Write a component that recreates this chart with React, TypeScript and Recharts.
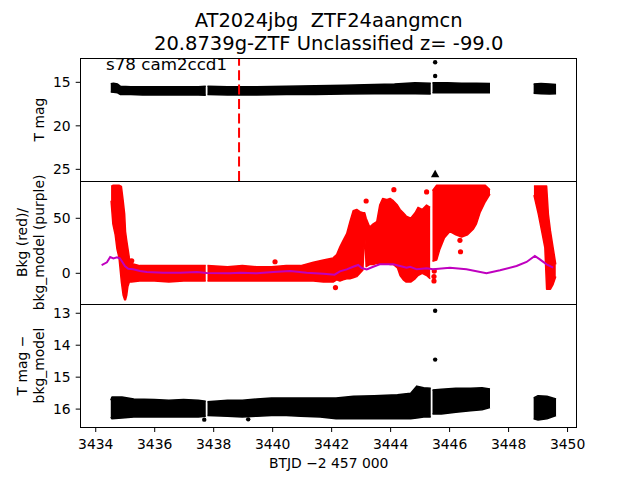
import React from 'react';
import { ComposedChart, Area, Scatter, XAxis, YAxis, ReferenceLine } from 'recharts';

const FONT = "'DejaVu Sans', sans-serif";

type Row = [number, number | null, number | null];
type Pt = [number, number];

const xDomain: [number, number] = [3433.49, 3450.31];
const xTicks = [3434, 3436, 3438, 3440, 3442, 3444, 3446, 3448, 3450];
const magTicks = [15, 20, 25];
const bkgTicks = [0, 50];
const diffTicks = [13, 14, 15, 16];

const magDomain: [number, number] = [12.24, 26.34];
const bkgDomain: [number, number] = [-27.9, 83.9];
const diffDomain: [number, number] = [12.71, 16.56];

const discoveryBTJD = 3438.86;

// T mag band envelope: [BTJD, bright edge, faint edge]
const tMagEnvelope: Row[] = [
  [3434.51, 15.15, 16.1],
  [3434.6, 15.1, 16.15],
  [3434.74, 15.2, 16.2],
  [3434.84, 15.45, 16.4],
  [3435.19, 15.5, 16.4],
  [3435.59, 15.5, 16.45],
  [3435.99, 15.5, 16.45],
  [3436.48, 15.5, 16.45],
  [3436.98, 15.5, 16.45],
  [3437.48, 15.5, 16.45],
  [3437.73, 15.45, 16.5],
  [3437.76, null, null],
  [3437.79, 15.45, 16.4],
  [3438.47, 15.5, 16.45],
  [3439.46, 15.5, 16.45],
  [3440.46, 15.45, 16.4],
  [3441.45, 15.4, 16.4],
  [3442.44, 15.35, 16.35],
  [3443.44, 15.25, 16.3],
  [3444.13, 15.2, 16.3],
  [3444.83, 15.05, 16.3],
  [3445.36, 15.1, 16.35],
  [3445.39, null, null],
  [3445.42, 15.05, 16.2],
  [3445.92, 15.05, 16.2],
  [3446.41, 15.1, 16.2],
  [3446.91, 15.1, 16.2],
  [3447.37, 15.15, 16.2],
  [3448.0, null, null],
  [3448.85, 15.2, 16.25],
  [3449.1, 15.15, 16.3],
  [3449.39, 15.2, 16.35],
  [3449.61, 15.25, 16.3],
];
const tMagOutliers: Pt[] = [
  [3445.51, 12.7],
  [3445.51, 14.28],
];
const tMagUpperLimits: Pt[] = [[3445.51, 25.57]];

// Background (red) envelope: [BTJD, low, high]
const bkgEnvelope: Row[] = [
  [3434.52, 66, 79],
  [3434.58, 45, 80],
  [3434.66, 35, 80],
  [3434.72, 22, 80],
  [3434.79, 14, 80],
  [3434.87, -8, 79],
  [3434.93, -20, 66],
  [3434.98, -24, 54],
  [3435.01, -24, 38],
  [3435.05, -20, 30],
  [3435.09, -12, 23],
  [3435.14, -8, 14],
  [3435.21, -8, 9],
  [3435.49, -7, 7],
  [3435.99, -7, 7],
  [3436.48, -8, 7],
  [3436.98, -7, 7],
  [3437.48, -7, 7],
  [3437.73, -7, 7],
  [3437.76, null, null],
  [3437.79, -7, 7],
  [3438.47, -7, 6],
  [3438.97, -7, 7],
  [3439.46, -7, 6],
  [3439.96, -7, 6],
  [3440.46, -7, 7],
  [3440.95, -7, 7],
  [3441.38, -7, 10],
  [3441.72, -8, 12],
  [3442.05, -8, 14],
  [3442.17, -6, 17],
  [3442.28, -7, 24],
  [3442.39, -6, 30],
  [3442.51, -5, 36],
  [3442.62, -5, 47],
  [3442.73, -4, 57],
  [3442.85, -3, 58],
  [3442.96, 0, 56],
  [3443.06, 3, 55],
  [3443.12, 38, 55],
  [3443.17, 6, 50],
  [3443.29, 8, 42],
  [3443.41, 8, 45],
  [3443.53, 9, 47],
  [3443.63, 9, 62],
  [3443.73, 9, 68],
  [3443.86, 9, 67],
  [3443.98, 8, 68],
  [3444.09, 8, 66],
  [3444.23, 5, 62],
  [3444.32, -2, 58],
  [3444.43, -6, 55],
  [3444.53, -8, 52],
  [3444.68, -8, 50],
  [3444.83, -5, 55],
  [3444.93, -2, 60],
  [3445.07, 0, 58],
  [3445.22, -2, 62],
  [3445.34, -5, 60],
  [3445.38, null, null],
  [3445.42, 11, 75],
  [3445.56, 12, 80],
  [3445.67, 22, 80],
  [3445.82, 32, 80],
  [3446.01, 38, 80],
  [3446.21, 35, 80],
  [3446.41, 33, 80],
  [3446.61, 35, 80],
  [3446.8, 40, 80],
  [3446.91, 45, 80],
  [3447.03, 55, 80],
  [3447.21, 65, 80],
  [3447.37, 72, 76],
  [3448.0, null, null],
  [3448.86, 71, 79.4],
  [3449.01, 53.6, 79.4],
  [3449.12, 38.5, 79.4],
  [3449.23, 23.3, 79.4],
  [3449.29, -14.5, 79.4],
  [3449.35, -14.5, 53.6],
  [3449.42, -14.5, 38.5],
  [3449.51, -10, 23.3],
  [3449.6, -3, 8.2],
];
const bkgOutliers: Pt[] = [
  [3435.22, 11.3],
  [3440.08, 10.5],
  [3442.13, -13],
  [3443.17, 65.7],
  [3444.11, 76],
  [3445.22, 74],
  [3445.47, -7],
  [3445.47, -3],
  [3445.48, 2],
  [3446.35, 30],
  [3446.37, 19.6],
];
// bkg_model (purple)
const bkgModel: Pt[] = [
  [3434.2, 7.5], [3434.38, 10], [3434.49, 14.8], [3434.6, 13.6], [3434.72, 14.5],
  [3434.82, 13.5], [3434.88, 11.2], [3434.99, 6.6], [3435.1, 4.2], [3435.27, 3.6],
  [3435.5, 2.1], [3435.73, 1.2], [3436.29, 0.6], [3436.86, 0.6], [3437.43, 1.2],
  [3437.76, 0.3], [3438.55, 0], [3438.9, 0.6], [3439.46, 0], [3440.02, 1.2],
  [3440.59, 2.1], [3441.15, 0.6], [3441.72, -0.3], [3442.1, -1.2], [3442.28, 1.8],
  [3442.51, 3.6], [3442.73, 6], [3442.9, 7.6], [3443.02, 4.8], [3443.19, 3.6],
  [3443.41, 6], [3443.63, 8.2], [3443.86, 8.2], [3444.09, 8.2], [3444.32, 6.6],
  [3444.54, 5], [3444.66, 6], [3444.89, 3.6], [3445.22, 4.5], [3445.44, 3.6],
  [3446.01, 5.1], [3446.57, 3.6], [3447.25, 0], [3447.71, 2.7], [3448.27, 6.6],
  [3448.61, 10.3], [3448.89, 15.8], [3449.06, 12.7], [3449.29, 8.2], [3449.51, 5.1],
];

// T mag - bkg_model envelope
const diffEnvelope: Row[] = [
  [3434.51, 15.72, 16.25],
  [3434.55, 15.62, 16.3],
  [3434.89, 15.62, 16.28],
  [3435.29, 15.68, 16.25],
  [3435.99, 15.7, 16.25],
  [3436.48, 15.72, 16.25],
  [3436.98, 15.7, 16.25],
  [3437.48, 15.72, 16.25],
  [3437.73, 15.75, 16.22],
  [3437.76, null, null],
  [3437.79, 15.77, 16.2],
  [3438.47, 15.72, 16.22],
  [3438.97, 15.72, 16.25],
  [3439.46, 15.68, 16.22],
  [3439.96, 15.65, 16.2],
  [3440.46, 15.65, 16.2],
  [3440.95, 15.65, 16.22],
  [3441.61, 15.65, 16.25],
  [3442.15, 15.65, 16.3],
  [3442.74, 15.6, 16.3],
  [3443.44, 15.58, 16.3],
  [3444.23, 15.55, 16.3],
  [3444.68, 15.5, 16.3],
  [3444.89, 15.28, 16.28],
  [3445.12, 15.33, 16.25],
  [3445.36, 15.35, 16.25],
  [3445.39, null, null],
  [3445.42, 15.4, 16.15],
  [3445.72, 15.38, 16.15],
  [3446.21, 15.35, 16.1],
  [3446.71, 15.35, 16.05],
  [3447.1, 15.33, 16.02],
  [3447.37, 15.37, 15.95],
  [3448.0, null, null],
  [3448.85, 15.65, 16.3],
  [3449.0, 15.58, 16.34],
  [3449.3, 15.6, 16.3],
  [3449.61, 15.68, 16.2],
];
const diffOutliers: Pt[] = [
  [3437.68, 16.33],
  [3439.17, 16.32],
  [3445.51, 12.92],
  [3445.51, 14.45],
];

const toRows = (env: Row[]) =>
  env.map(([t, lo, hi]) => ({ t, band: lo == null || hi == null ? null : [lo, hi] }));
const toPts = (pts: Pt[]) => pts.map(([t, v]) => ({ t, v }));

const tickStyle = { fill: '#000', fontSize: 13.9, fontFamily: FONT };
const W = 640;
const PLOT_LEFT = 80.7;
const PLOT_RIGHT = 576.7;

const dot = (r: number, color: string) => (p: any) =>
  <circle cx={p.cx} cy={p.cy} r={r} fill={color} />;
const triangle = (p: any) => (
  <polygon
    points={`${p.cx},${p.cy - 4.6} ${p.cx - 4.2},${p.cy + 3} ${p.cx + 4.2},${p.cy + 3}`}
    fill="#000"
  />
);
const noMarker = () => <g />;

const yAxisProps = (domain: [number, number], ticks: number[], reversed: boolean) => ({
  dataKey: 'v',
  type: 'number' as const,
  domain,
  reversed,
  allowDataOverflow: true,
  ticks,
  interval: 0 as const,
  width: PLOT_LEFT,
  tickSize: 5,
  tickMargin: 5,
  axisLine: false,
  tickLine: { stroke: '#000' },
  tick: tickStyle,
});

export default function App() {
  const margin = { top: 0, right: W - PLOT_RIGHT, bottom: 0, left: 0 };
  return (
    <div style={{ position: 'absolute', left: 0, top: 0, width: 640, height: 480, background: '#fff' }}>
      <div style={{ position: 'absolute', left: 0, top: 0 }}>
        <ComposedChart width={W} height={181} data={toRows(tMagEnvelope)} margin={{ ...margin, top: 58.3 }}>
          <XAxis dataKey="t" type="number" domain={xDomain} allowDataOverflow hide />
          <YAxis {...yAxisProps(magDomain, magTicks, true)} />
          <ReferenceLine x={discoveryBTJD} stroke="#ff0000" strokeWidth={2} strokeDasharray="10 4.4" />
          <Area dataKey="band" type="linear" stroke="#000" strokeWidth={1.5} strokeLinejoin="round" fill="#000" fillOpacity={1} connectNulls={false} isAnimationActive={false} dot={false} activeDot={false} />
          <Scatter data={toPts(tMagOutliers)} shape={dot(2.2, '#000')} isAnimationActive={false} />
          <Scatter data={toPts(tMagUpperLimits)} shape={triangle} isAnimationActive={false} />
        </ComposedChart>
      </div>
      <div style={{ position: 'absolute', left: 0, top: 181 }}>
        <ComposedChart width={W} height={123} data={toRows(bkgEnvelope)} margin={margin}>
          <XAxis dataKey="t" type="number" domain={xDomain} allowDataOverflow hide />
          <YAxis {...yAxisProps(bkgDomain, bkgTicks, false)} />
          <Area dataKey="band" type="linear" stroke="#ff0000" strokeWidth={1.5} strokeLinejoin="round" fill="#ff0000" fillOpacity={1} connectNulls={false} isAnimationActive={false} dot={false} activeDot={false} />
          <Scatter data={toPts(bkgOutliers)} shape={dot(2.6, '#ff0000')} isAnimationActive={false} />
          <Scatter data={toPts(bkgModel)} line={{ stroke: '#bf00bf', strokeWidth: 2 }} lineType="joint" shape={noMarker} isAnimationActive={false} />
        </ComposedChart>
      </div>
      <div style={{ position: 'absolute', left: 0, top: 304 }}>
        <ComposedChart width={W} height={176} data={toRows(diffEnvelope)} margin={margin}>
          <XAxis
            dataKey="t"
            type="number"
            domain={xDomain}
            allowDataOverflow
            ticks={xTicks}
            interval={0}
            height={53}
            tickSize={5}
            tickMargin={7}
            axisLine={false}
            tickLine={{ stroke: '#000' }}
            tick={tickStyle}
          />
          <YAxis {...yAxisProps(diffDomain, diffTicks, true)} />
          <Area dataKey="band" type="linear" stroke="#000" strokeWidth={1.5} strokeLinejoin="round" fill="#000" fillOpacity={1} connectNulls={false} isAnimationActive={false} dot={false} activeDot={false} />
          <Scatter data={toPts(diffOutliers)} shape={dot(2.2, '#000')} isAnimationActive={false} />
        </ComposedChart>
      </div>
      <svg width={640} height={480} style={{ position: 'absolute', left: 0, top: 0, pointerEvents: 'none' }} fontFamily={FONT}>
        <rect x={80.5} y={58.5} width={496} height={123} fill="none" stroke="#000" strokeWidth={1} />
        <rect x={80.5} y={181.5} width={496} height={123} fill="none" stroke="#000" strokeWidth={1} />
        <rect x={80.5} y={304.5} width={496} height={123} fill="none" stroke="#000" strokeWidth={1} />
        <text x={328.7} y={26.6} textAnchor="middle" fontSize={19.5} fill="#000" style={{ whiteSpace: 'pre' }} xmlSpace="preserve">AT2024jbg  ZTF24aangmcn</text>
        <text x={328.7} y={50} textAnchor="middle" fontSize={19.5} fill="#000">20.8739g-ZTF Unclassified z= -99.0</text>
        <text x={106} y={70} fontSize={16.7} fill="#000">s78 cam2ccd1</text>
        <text transform="translate(43.5,119.6) rotate(-90)" textAnchor="middle" fontSize={13.9} fill="#000">T mag</text>
        <text transform="translate(26.8,242.5) rotate(-90)" textAnchor="middle" fontSize={13.9} fill="#000">Bkg (red)/</text>
        <text transform="translate(43.5,242.5) rotate(-90)" textAnchor="middle" fontSize={13.9} fill="#000">bkg_model (purple)</text>
        <text transform="translate(26.8,365.5) rotate(-90)" textAnchor="middle" fontSize={13.9} fill="#000">T mag −</text>
        <text transform="translate(43.5,365.5) rotate(-90)" textAnchor="middle" fontSize={13.9} fill="#000">bkg_model</text>
        <text x={328.7} y={468.3} textAnchor="middle" fontSize={13.9} fill="#000">BTJD −2 457 000</text>
      </svg>
    </div>
  );
}
